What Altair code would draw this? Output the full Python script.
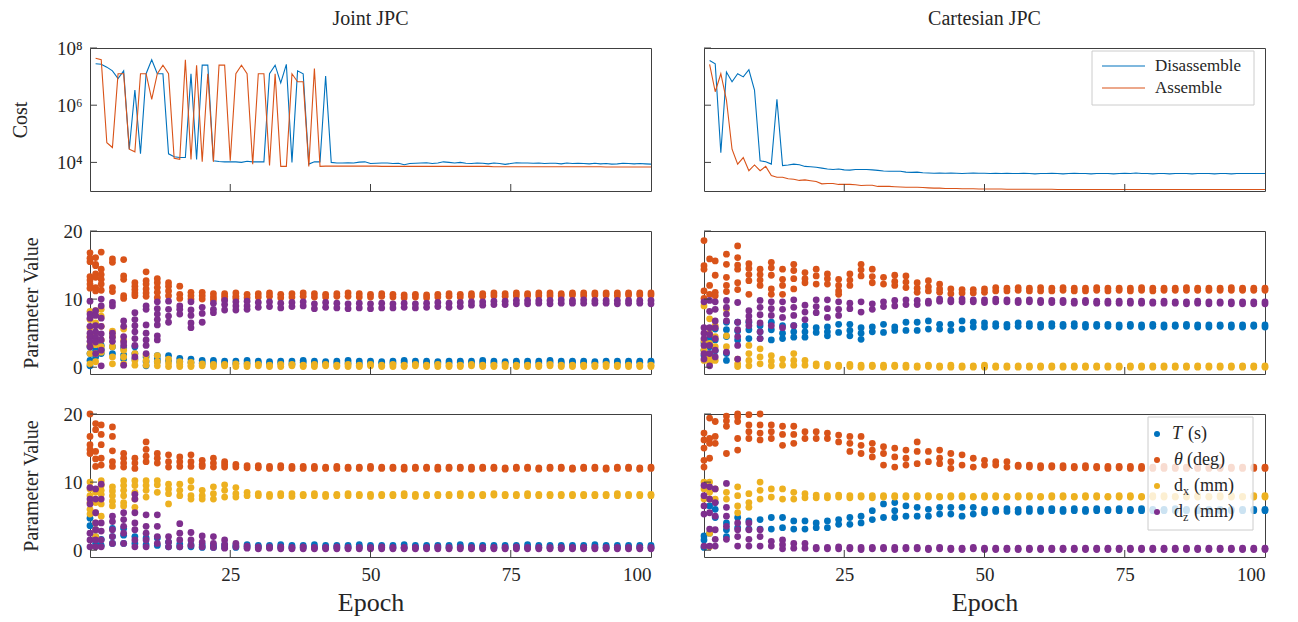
import altair as alt
import pandas as pd

FONT = "Liberation Serif"
FRAME = "#404040"

# ---------------- data ----------------
EPOCHS = [0, 1, 2, 4, 6, 8, 10, 12, 14, 16, 18, 20, 22, 24, 26, 28, 30, 32, 34, 36, 38, 40,
          42, 44, 46, 48, 50, 52, 54, 56, 58, 60, 62, 64, 66, 68, 70, 72, 74, 76, 78, 80,
          82, 84, 86, 88, 90, 92, 94, 96, 98, 100]

PARAM_KEYS = ["T", "theta", "dx", "dz"]
PARAM_COLORS = ["#0072BD", "#D95319", "#EDB120", "#7E2F8E"]
LINE_NAMES = ["Disassemble", "Assemble"]
LINE_COLORS = ["#0072BD", "#D95319"]
COL_TITLES = ["Joint JPC", "Cartesian JPC"]

# cost, log10 values for epochs 1..100
JOINT_DIS = [7.45, 7.43, 7.33, 7.2, 6.93, 7.2, 4.46, 6.53, 4.3, 7.1,
             7.59, 7.1, 7.1, 4.3, 4.2, 4.17, 4.17, 7.1, 4.1, 7.4,
             7.4, 4.06, 4.03, 4.02, 4.02, 4.02, 4.0, 4.04, 4.02, 4.02,
             4.02, 7.1, 7.4, 6.78, 7.43, 4.0, 7.2, 7.1, 3.94, 4.02,
             4.02, 7.02, 4.0,
             3.98, 3.98, 3.99, 3.98, 4.01, 4.02, 3.96, 3.97, 3.98, 3.98,
             3.96, 3.97, 3.92, 3.96, 3.97, 3.98, 3.99, 3.96, 3.98, 4.02,
             4.0, 3.98, 4.0, 3.97, 3.96, 3.98, 3.97, 3.95, 3.98, 3.96,
             3.93, 3.96, 3.99, 3.98, 3.98, 3.97, 3.98, 3.96, 3.97, 3.97,
             3.95, 3.98, 3.96, 3.97, 3.96, 3.95, 3.97, 3.95, 3.96, 3.94,
             3.95, 3.97, 3.96, 3.95, 3.96, 3.95, 3.94]
JOINT_ASS = [7.64, 7.59, 4.69, 4.52, 7.1, 7.1, 4.46, 4.37, 7.1, 7.1,
             6.2, 7.1, 7.4, 7.1, 4.14, 4.11, 7.59, 4.1, 7.4, 4.02,
             7.1, 4.02, 7.4, 7.4, 4.06, 7.1, 7.4, 7.1, 3.94, 7.1,
             7.1, 3.89, 7.1, 3.86, 3.86, 7.1, 6.82, 6.82, 3.86, 7.28, 3.86,
             3.87, 3.87, 3.87, 3.87, 3.87, 3.87, 3.87, 3.87, 3.87, 3.87,
             3.86, 3.86, 3.86, 3.86, 3.86, 3.86, 3.86, 3.86, 3.86, 3.86,
             3.86, 3.86, 3.86, 3.86, 3.86, 3.86, 3.86, 3.86, 3.86, 3.86,
             3.85, 3.85, 3.85, 3.85, 3.85, 3.85, 3.85, 3.85, 3.85, 3.85,
             3.85, 3.85, 3.85, 3.85, 3.85, 3.85, 3.85, 3.85, 3.85, 3.85,
             3.84, 3.84, 3.84, 3.84, 3.84, 3.84, 3.84, 3.84, 3.84]
CART_DIS = [7.56, 7.45, 4.34, 7.16, 6.82, 7.1, 6.99, 7.24, 6.53, 4.06,
            4.02, 3.94, 6.21, 3.89, 3.91, 3.94, 3.92, 3.86, 3.85, 3.83,
            3.8, 3.77, 3.75, 3.77, 3.74, 3.73, 3.75, 3.75, 3.75, 3.74,
            3.72, 3.7, 3.69, 3.69, 3.69, 3.66, 3.65, 3.66, 3.64, 3.63,
            3.62, 3.63, 3.62, 3.63, 3.62, 3.61, 3.62, 3.63, 3.62, 3.62,
            3.61, 3.62, 3.61, 3.62, 3.61, 3.61, 3.62, 3.61, 3.6, 3.61,
            3.61, 3.62, 3.61, 3.6, 3.61, 3.62, 3.61, 3.61, 3.6, 3.61,
            3.61, 3.61, 3.6, 3.61, 3.62, 3.61, 3.63, 3.61, 3.61, 3.6,
            3.61, 3.61, 3.6, 3.61, 3.61, 3.61, 3.6, 3.61, 3.61, 3.61,
            3.6, 3.61, 3.61, 3.6, 3.61, 3.61, 3.61, 3.61, 3.61, 3.61]
CART_ASS = [7.43, 6.47, 7.1, 6.18, 4.46, 3.94, 4.17, 3.71, 3.91, 3.71,
            3.86, 3.54, 3.48, 3.48, 3.43, 3.41, 3.37, 3.39, 3.36, 3.33,
            3.25, 3.26, 3.26, 3.23, 3.23, 3.23, 3.22, 3.19, 3.2, 3.2,
            3.16, 3.16, 3.16, 3.15, 3.14, 3.13, 3.13, 3.13, 3.12, 3.11,
            3.1, 3.1, 3.09, 3.09, 3.09, 3.08, 3.08, 3.08, 3.07, 3.07,
            3.07, 3.07, 3.07, 3.06, 3.06, 3.06, 3.06, 3.06, 3.06, 3.06,
            3.06, 3.06, 3.05, 3.05, 3.05, 3.05, 3.05, 3.05, 3.05, 3.05,
            3.05, 3.05, 3.05, 3.05, 3.05, 3.05, 3.05, 3.05, 3.05, 3.05,
            3.05, 3.05, 3.05, 3.05, 3.05, 3.05, 3.05, 3.05, 3.05, 3.05,
            3.05, 3.05, 3.05, 3.05, 3.05, 3.05, 3.05, 3.05, 3.05, 3.05]

# ---- parameter populations, one list per epoch column in EPOCHS ----
# Joint JPC, middle row
JM_T = [[3.0, 2.0, 1.0, 0.2], [3.0, 2.5, 1.5], [3.2, 2.6, 2.0], [3.0, 2.0], [2.8, 1.8, 1.2], [3.0, 2.0, 1.2],
        [1.5, 0.8, 0.2], [1.7, 1.2, 0.8], [1.7, 1.0], [1.3, 0.8], [1.2, 0.7], [1.0, 0.6],
        [1.0, 0.6], [0.9, 0.6], [0.9, 0.5], [1.0, 0.6], [0.9, 0.6], [0.8, 0.5], [0.9, 0.6], [0.9, 0.5], [1.0, 0.7], [0.9, 0.6],
        [0.8, 0.6], [0.9, 0.6], [1.0, 0.6], [0.9, 0.5], [0.9, 0.6], [0.8, 0.6], [0.9, 0.6], [1.0, 0.7], [0.9, 0.6], [0.9, 0.6],
        [0.8, 0.6], [0.9, 0.6], [0.9, 0.7], [0.9, 0.6], [1.0, 0.6], [0.9, 0.6], [0.8, 0.6], [0.9, 0.7], [0.9, 0.6], [0.9, 0.6],
        [1.0, 0.7], [0.9, 0.6], [0.9, 0.7], [0.9, 0.6], [0.8, 0.6], [0.9, 0.7], [0.9, 0.6], [0.9, 0.6], [0.9, 0.7], [0.9, 0.7]]
JM_TH = [[16.8, 16.0, 15.5, 13.3, 12.8, 12.2, 11.6], [16.1, 15.1, 14.9, 13.7, 13.2, 11.7, 11.2],
         [16.9, 14.4, 13.6, 12.9, 12.2, 11.3], [15.9, 15.4, 11.7, 11.1], [15.8, 13.4, 12.9, 10.5, 10.1],
         [12.4, 11.9, 11.4, 10.9, 10.5], [14.0, 12.7, 12.2, 11.5, 10.9, 10.4], [13.0, 12.4, 11.7, 11.0, 10.2],
         [12.4, 11.9, 11.2, 10.5], [11.9, 10.7, 10.1], [11.0, 10.5, 10.0], [11.0, 10.5, 10.0],
         [10.8, 10.3, 9.9], [10.8, 10.4, 10.0], [10.9, 10.4, 10.1], [10.7, 10.2],
         [10.8, 10.3], [10.9, 10.4], [10.7, 10.2], [10.8, 10.3], [10.9, 10.4], [10.8, 10.3], [10.7, 10.3], [10.8, 10.4], [10.9, 10.4], [10.8, 10.3],
         [10.7, 10.3], [10.8, 10.4], [10.7, 10.3], [10.6, 10.2], [10.7, 10.3], [10.6, 10.2], [10.7, 10.3], [10.8, 10.4], [10.7, 10.3], [10.8, 10.4],
         [10.8, 10.4], [10.9, 10.5], [10.8, 10.4], [10.9, 10.5], [10.8, 10.5], [10.9, 10.5], [10.9, 10.5], [10.8, 10.5], [10.9, 10.6], [10.9, 10.5],
         [10.9, 10.6], [10.9, 10.6], [10.9, 10.5], [10.9, 10.6], [10.9, 10.6], [10.9, 10.6]]
JM_DX = [[8.2, 7.0, 5.8, 4.5, 3.2, 2.0, 0.5], [8.3, 6.5, 5.0, 3.3, 2.0, 0.8], [8.5, 7.5, 6.0, 4.0, 3.0, 2.2],
         [5.3, 4.5, 3.0, 1.5, 0.5], [5.6, 4.0, 2.5, 1.5, 0.5], [2.0, 1.0, 0.3], [1.8, 1.0, 0.3],
         [1.7, 0.8, 0.2], [1.2, 0.6, 0.1], [0.8, 0.4, 0.1], [0.7, 0.3, 0.1],
         [0.5, 0.2], [0.4, 0.1], [0.4, 0.2], [0.5, 0.1], [0.4, 0.1], [0.4, 0.2], [0.3, 0.1], [0.4, 0.1], [0.4, 0.2], [0.3, 0.1],
         [0.4, 0.1], [0.4, 0.2], [0.3, 0.1], [0.4, 0.1], [0.3, 0.1], [0.4, 0.2], [0.3, 0.1], [0.4, 0.1], [0.3, 0.1], [0.4, 0.2],
         [0.3, 0.1], [0.4, 0.1], [0.3, 0.1], [0.3, 0.1], [0.4, 0.2], [0.3, 0.1], [0.3, 0.1], [0.4, 0.1], [0.3, 0.1], [0.3, 0.1],
         [0.3, 0.1], [0.4, 0.2], [0.3, 0.1], [0.3, 0.1], [0.3, 0.1], [0.3, 0.1], [0.4, 0.1], [0.3, 0.1], [0.3, 0.1], [0.3, 0.1],
         [0.3, 0.1]]
JM_DZ = [[9.7, 7.8, 7.2, 6.0, 5.0, 4.4, 3.8, 3.0], [8.3, 7.6, 6.1, 5.2, 4.4, 3.7, 2.0],
         [10.0, 9.0, 7.2, 6.0, 4.9, 4.0, 2.5, 0.2], [9.5, 9.0, 5.0, 4.4, 3.8], [6.8, 6.0, 4.5, 3.7, 3.2, 0.3],
         [8.0, 7.0, 6.1, 5.2, 4.2, 3.2, 1.5], [9.0, 8.5, 6.2, 5.0, 4.0, 3.2, 2.0], [9.6, 8.6, 7.8, 7.0, 6.2, 4.6, 4.0],
         [9.7, 8.5, 7.5, 6.6], [9.0, 8.5, 7.8], [9.6, 8.4, 7.6, 6.5, 5.8], [8.8, 7.9, 6.6],
         [9.4, 8.5, 8.0], [9.8, 9.2, 8.4], [9.6, 9.0, 8.4], [9.7, 9.0, 8.5],
         [9.5, 8.8], [9.6, 8.9], [9.4, 8.7], [9.5, 8.9], [9.6, 9.0], [9.3, 8.6], [9.5, 8.8], [9.4, 8.7], [9.3, 8.6], [9.4, 8.7],
         [9.3, 8.6], [9.4, 8.7], [9.3, 8.7], [9.4, 8.8], [9.3, 8.7], [9.4, 8.8], [9.5, 8.9], [9.4, 8.8], [9.5, 8.9], [9.6, 9.1],
         [9.6, 9.1], [9.7, 9.2], [9.7, 9.2], [9.8, 9.3], [9.8, 9.3], [9.8, 9.4], [9.8, 9.3], [9.9, 9.4], [9.8, 9.4], [9.9, 9.4],
         [9.8, 9.4], [9.8, 9.4], [9.8, 9.3], [9.8, 9.4], [9.8, 9.4], [9.8, 9.3]]

# Joint JPC, bottom row
JB_T = [[4.7, 3.6], [3.0, 2.0, 1.0], [1.6, 0.7], [3.2, 2.0, 1.0], [3.2, 2.2, 1.0], [2.0, 1.0], [1.8, 0.8],
        [1.8, 0.7], [1.2, 0.5],
        [0.9, 0.5], [0.8, 0.5], [0.8, 0.4], [0.7, 0.4], [0.8, 0.4], [0.7, 0.4], [0.8, 0.5], [0.7, 0.4], [0.7, 0.4], [0.8, 0.4],
        [0.7, 0.4], [0.7, 0.4], [0.8, 0.4], [0.7, 0.4], [0.7, 0.4], [0.7, 0.4], [0.8, 0.5], [0.7, 0.4], [0.7, 0.4], [0.7, 0.4],
        [0.8, 0.4], [0.7, 0.4], [0.7, 0.4], [0.7, 0.4], [0.7, 0.4], [0.8, 0.5], [0.7, 0.4], [0.7, 0.4], [0.7, 0.4], [0.7, 0.4],
        [0.7, 0.4], [0.8, 0.4], [0.7, 0.4], [0.7, 0.4], [0.7, 0.4], [0.7, 0.4], [0.7, 0.4], [0.8, 0.5], [0.7, 0.4], [0.7, 0.4],
        [0.7, 0.4], [0.7, 0.4], [0.7, 0.4]]
JB_TH = [[20.0, 16.7, 15.5, 14.8, 14.2], [18.6, 17.7, 14.5, 13.4, 12.3], [18.4, 17.0, 15.5, 13.5, 12.5],
         [18.1, 16.7, 14.6, 13.0, 12.3], [14.2, 13.5, 12.8, 12.2], [13.5, 12.8, 12.0], [15.9, 14.8, 13.8, 13.0],
         [14.2, 13.5, 12.8], [14.0, 13.0, 12.2], [13.7, 13.0, 12.3], [14.0, 13.0, 12.3], [13.2, 12.6, 12.3],
         [13.5, 12.8, 12.2], [13.0, 12.6, 12.2], [12.6, 12.2], [12.4, 12.1],
         [12.4, 12.1], [12.3, 12.0], [12.4, 12.1], [12.3, 12.0], [12.3, 12.0], [12.3, 12.0], [12.2, 12.0], [12.3, 12.0], [12.2, 12.0], [12.2, 12.0],
         [12.3, 12.0], [12.2, 12.0], [12.2, 12.0], [12.2, 11.9], [12.2, 12.0], [12.2, 12.0], [12.2, 11.9], [12.2, 12.0], [12.2, 12.0], [12.2, 11.9],
         [12.2, 12.0], [12.2, 12.0], [12.1, 11.9], [12.2, 12.0], [12.2, 12.0], [12.1, 11.9], [12.2, 12.0], [12.2, 12.0], [12.1, 11.9], [12.2, 12.0],
         [12.2, 12.0], [12.1, 11.9], [12.2, 12.0], [12.2, 12.0], [12.1, 11.9], [12.2, 12.0]]
JB_DX = [[10.0, 9.0, 8.0, 7.0, 6.0, 5.3], [8.5, 7.0, 5.5, 4.0, 3.0, 2.0], [10.2, 9.5, 8.8, 8.2, 6.8, 5.0],
         [9.3, 8.7, 8.0, 7.2, 6.5], [10.2, 9.5, 8.8, 8.0, 7.0, 6.5], [10.2, 9.5, 8.5, 7.5, 6.3], [10.2, 9.5, 8.8, 7.8],
         [10.2, 9.6, 8.5], [9.7, 9.0, 8.3, 6.8], [9.7, 8.8, 8.0], [10.2, 9.2, 8.0, 7.5], [8.8, 8.0, 7.5],
         [9.3, 8.3, 7.5], [9.6, 8.8, 7.8], [9.2, 8.3, 7.8], [8.5, 8.0],
         [8.3, 8.0], [8.2, 7.9], [8.3, 8.0], [8.3, 7.9], [8.2, 8.0], [8.3, 8.0], [8.2, 7.9], [8.2, 8.0], [8.3, 8.0], [8.2, 8.0],
         [8.2, 7.9], [8.2, 8.0], [8.2, 8.0], [8.3, 8.0], [8.2, 7.9], [8.2, 8.0], [8.2, 8.0], [8.2, 8.0], [8.3, 8.0], [8.2, 8.0],
         [8.2, 8.0], [8.3, 8.1], [8.2, 8.0], [8.2, 8.0], [8.3, 8.0], [8.2, 8.0], [8.2, 8.0], [8.2, 8.0], [8.2, 8.0], [8.2, 8.0],
         [8.2, 8.0], [8.2, 8.0], [8.3, 8.0], [8.2, 8.0], [8.2, 8.0], [8.2, 8.0]]
JB_DZ = [[9.2, 7.5, 6.8, 2.5, 1.5, 0.5], [9.0, 7.5, 5.5, 4.0, 3.0, 1.5, 0.5], [9.7, 7.5, 4.0, 2.8, 1.5, 0.5],
         [5.0, 4.2, 3.0, 2.0, 1.0], [5.5, 4.5, 3.5, 2.5, 1.0], [8.2, 7.5, 5.5, 4.0, 3.0, 1.5, 0.5],
         [5.2, 3.5, 2.5, 1.5, 0.5], [5.2, 3.5, 2.0, 1.0], [2.0, 1.2, 0.5], [3.9, 2.5, 1.5, 0.5],
         [2.6, 1.5, 0.7], [2.1, 1.2, 0.5], [2.0, 1.0, 0.4], [1.5, 0.8, 0.3], [1.0, 0.5],
         [0.6, 0.3], [0.5, 0.2], [0.5, 0.3], [0.5, 0.2], [0.4, 0.2], [0.5, 0.2], [0.4, 0.2], [0.4, 0.2], [0.5, 0.2], [0.4, 0.2],
         [0.4, 0.2], [0.4, 0.2], [0.5, 0.2], [0.4, 0.2], [0.4, 0.2], [0.4, 0.2], [0.4, 0.2], [0.5, 0.2], [0.4, 0.2], [0.4, 0.2],
         [0.4, 0.2], [0.4, 0.2], [0.4, 0.2], [0.4, 0.2], [0.5, 0.2], [0.4, 0.2], [0.4, 0.2], [0.4, 0.2], [0.4, 0.2], [0.4, 0.2],
         [0.4, 0.2], [0.4, 0.2], [0.4, 0.2], [0.4, 0.2], [0.4, 0.2], [0.4, 0.2], [0.4, 0.2]]

# Cartesian JPC, middle row
CM_T = [[3.6, 2.5, 1.7], [4.1, 3.0, 2.0], [5.6, 4.0, 2.4], [6.6, 5.5, 4.5, 2.0, 1.0], [6.6, 5.3, 4.0],
        [6.6, 5.5, 4.2], [6.1, 5.2, 4.2], [6.6, 5.5, 4.0], [6.1, 5.0, 4.2], [6.1, 5.2, 4.4], [6.1, 5.2, 4.4],
        [5.8, 5.1], [5.9, 5.2, 4.6], [6.3, 5.1], [6.3, 5.4, 4.6], [5.8, 5.0, 4.1], [5.9, 5.2], [6.3, 5.1],
        [5.9, 5.4], [6.6, 5.4], [6.6, 5.4], [6.8, 5.6], [6.3, 5.6], [6.3, 5.4], [6.8, 5.6], [6.6, 5.9], [6.5, 5.9],
        [6.4, 6.0], [6.3, 5.9], [6.5, 6.0], [6.4, 6.0], [6.3, 5.9], [6.4, 6.0], [6.3, 6.0], [6.4, 6.0], [6.3, 5.9], [6.3, 6.0],
        [6.3, 6.0], [6.2, 5.9], [6.3, 6.0], [6.2, 5.9], [6.3, 6.0], [6.2, 5.9], [6.2, 6.0], [6.3, 6.0], [6.2, 5.9], [6.2, 5.9],
        [6.2, 6.0], [6.2, 5.9], [6.2, 5.9], [6.2, 6.0], [6.2, 5.9]]
CM_TH = [[18.6, 14.9, 14.4, 11.2, 10.1], [15.9, 12.0, 10.7], [15.6, 13.5, 11.0, 10.5], [16.6, 15.1, 13.2, 12.0, 11.1],
         [17.8, 16.1, 15.0, 14.4, 12.4, 11.4], [15.2, 14.5, 13.6, 12.7, 10.7], [14.4, 13.6, 12.8, 12.0],
         [15.4, 14.6, 13.5, 11.5, 10.7], [14.4, 12.9, 12.0, 10.7], [15.1, 14.2, 13.0, 11.5], [13.9, 13.0, 12.4],
         [14.4, 13.4, 12.2], [13.7, 13.0, 12.2], [12.9, 12.0, 11.2, 10.7], [13.7, 12.8, 12.0], [15.1, 14.3, 13.4],
         [14.4, 13.3, 12.4], [13.2, 12.2], [13.5, 12.6, 12.0], [13.4, 12.5, 11.7], [12.4, 11.6, 11.0], [12.7, 11.8, 11.2],
         [12.2, 11.5, 11.0], [11.5, 10.8], [11.4, 10.9], [11.4, 10.9], [11.5, 11.0],
         [11.7, 11.2], [11.6, 11.2], [11.7, 11.3], [11.6, 11.2], [11.7, 11.2], [11.6, 11.2], [11.7, 11.3], [11.6, 11.2], [11.6, 11.2], [11.7, 11.3],
         [11.6, 11.2], [11.6, 11.3], [11.6, 11.2], [11.7, 11.3], [11.6, 11.2], [11.6, 11.3], [11.6, 11.3], [11.7, 11.3], [11.6, 11.3], [11.6, 11.3],
         [11.6, 11.3], [11.7, 11.3], [11.6, 11.3], [11.6, 11.3], [11.6, 11.3]]
CM_DX = [[9.0, 3.9, 2.5, 1.0], [7.1, 5.0, 3.5, 1.5, 0.7], [6.1, 4.5, 3.0, 1.0], [8.5, 4.6, 3.0], [1.2, 0.5, 0.1],
         [3.2, 2.0, 1.0, 0.2], [2.7, 1.5, 0.5], [1.7, 0.9, 0.2], [1.2, 0.3], [2.0, 1.0, 0.3], [1.0, 0.3], [0.5, 0.2],
         [0.4, 0.1], [0.3, 0.1], [0.4, 0.1], [0.3, 0.0], [0.3, 0.1], [0.3, 0.0], [0.3, 0.1], [0.3, 0.0], [0.2, 0.0], [0.3, 0.1],
         [0.2, 0.0], [0.3, 0.0], [0.2, 0.0], [0.2, 0.0], [0.3, 0.0], [0.2, 0.0], [0.2, 0.0], [0.2, 0.0], [0.2, 0.0], [0.2, 0.0],
         [0.2, 0.0], [0.2, 0.0], [0.2, 0.0], [0.2, 0.0], [0.2, 0.0], [0.2, 0.0], [0.2, 0.0], [0.2, 0.0], [0.2, 0.0], [0.2, 0.0],
         [0.2, 0.0], [0.2, 0.0], [0.2, 0.0], [0.2, 0.0], [0.2, 0.0], [0.2, 0.0], [0.2, 0.0], [0.2, 0.0], [0.2, 0.0], [0.2, 0.0]]
CM_DZ = [[9.6, 5.8, 5.0, 4.2, 3.2, 2.0, 1.2], [9.8, 8.2, 5.8, 4.8, 3.2, 2.0, 0.2], [9.6, 8.5, 6.8, 5.8, 4.2, 2.5, 1.5],
         [9.8, 8.8, 7.8, 6.8, 2.2], [9.5, 6.6, 5.5, 4.5, 3.2, 1.2], [8.3, 7.5, 6.8, 6.1], [9.8, 8.8, 7.7, 6.5, 5.2, 4.2],
         [9.6, 8.6, 7.6, 6.1], [9.6, 8.5, 7.3, 5.8], [9.9, 8.8, 7.6, 6.1], [9.1, 8.1, 7.0], [9.9, 8.9, 8.0],
         [9.9, 8.6, 7.3], [9.6, 8.5, 7.6], [9.4, 8.6], [9.6, 8.1], [9.3, 8.5], [9.6, 8.9], [9.8, 9.0], [9.9, 9.2],
         [9.8, 9.2], [9.7, 9.4], [10.0, 9.7],
         [9.9, 9.6], [10.0, 9.6], [9.9, 9.6], [9.9, 9.5], [10.0, 9.6], [9.9, 9.6], [9.8, 9.5], [9.9, 9.6], [9.8, 9.5], [9.8, 9.5],
         [9.8, 9.5], [9.7, 9.4], [9.8, 9.5], [9.7, 9.4], [9.7, 9.4], [9.7, 9.4], [9.7, 9.4], [9.7, 9.4], [9.6, 9.4], [9.7, 9.4],
         [9.6, 9.4], [9.6, 9.3], [9.7, 9.4], [9.6, 9.3], [9.6, 9.4], [9.6, 9.3], [9.6, 9.3], [9.6, 9.3], [9.6, 9.3]]

# Cartesian JPC, bottom row
CB_T = [[2.1, 1.5, 0.4], [7.5, 6.5, 2.5], [7.0, 6.0, 4.8], [4.0, 3.0, 2.0], [4.8, 3.3], [4.3, 3.1], [4.5, 3.1],
        [4.8, 3.1], [4.8, 3.3], [4.3, 3.1], [4.3, 3.1], [4.0, 3.3], [4.3, 3.3], [4.5, 3.8], [4.8, 3.8], [5.0, 4.0],
        [5.8, 4.5], [6.8, 4.8], [7.0, 5.8, 4.8], [6.5, 5.0], [6.3, 5.0], [6.0, 5.0], [6.3, 5.3], [6.3, 5.3], [6.3, 5.0],
        [6.3, 5.3], [6.0, 5.5],
        [6.0, 5.7], [6.1, 5.7], [6.0, 5.6], [6.1, 5.7], [6.0, 5.7], [6.1, 5.8], [6.0, 5.7], [6.1, 5.8], [6.0, 5.7], [6.1, 5.8],
        [6.0, 5.8], [6.1, 5.8], [6.0, 5.8], [6.1, 5.8], [6.0, 5.8], [6.0, 5.8], [6.1, 5.8], [6.0, 5.8], [6.0, 5.8], [6.0, 5.8],
        [6.0, 5.8], [6.0, 5.8], [6.0, 5.8], [6.0, 5.8], [6.0, 5.8]]
CB_TH = [[17.2, 16.2, 15.0, 13.2, 12.2], [19.4, 16.4, 15.7, 13.5], [18.9, 16.7, 15.7], [19.7, 19.0, 18.2, 14.2],
         [20.0, 19.6, 18.9, 16.4, 14.7], [19.9, 18.4, 17.4, 16.4], [20.0, 18.4, 17.2, 16.2], [18.4, 17.4, 16.4],
         [18.2, 17.0, 15.4], [18.2, 17.0, 15.7], [17.4, 16.4], [17.4, 16.4], [17.2, 16.4], [16.9, 15.9],
         [16.7, 15.7, 14.5], [16.7, 15.4, 14.2], [15.7, 14.7, 13.7], [15.2, 14.2, 12.5], [15.0, 13.7, 12.2],
         [14.7, 13.5, 12.5], [15.9, 14.5, 12.7], [14.5, 13.0], [14.7, 13.5, 12.7], [14.2, 13.0, 12.0], [14.0, 12.5],
         [13.5, 12.2], [13.2, 12.5], [13.0, 12.5], [13.0, 12.2], [12.5, 12.3],
         [12.5, 12.2], [12.4, 12.1], [12.4, 12.2], [12.4, 12.1], [12.3, 12.1], [12.4, 12.1], [12.3, 12.1], [12.3, 12.0], [12.3, 12.1], [12.3, 12.0],
         [12.3, 12.0], [12.2, 12.0], [12.3, 12.0], [12.2, 12.0], [12.2, 12.0], [12.2, 12.0], [12.2, 12.0], [12.2, 12.0], [12.2, 12.0], [12.2, 12.0],
         [12.2, 12.0], [12.2, 12.0]]
CB_DX = [[10.0, 9.0, 7.5], [10.0, 8.5, 7.5, 2.5, 0.5], [9.0, 7.5], [8.5, 7.5], [9.3, 8.0, 6.5, 5.5], [8.3, 7.0, 6.3],
         [10.0, 8.8, 7.5], [9.0, 7.8], [9.0, 7.5], [8.5, 7.5],
         [8.3, 7.7], [8.1, 7.7], [8.0, 7.7], [8.1, 7.8], [8.0, 7.7], [8.0, 7.8], [8.0, 7.7], [8.0, 7.8], [8.0, 7.8], [8.0, 7.8],
         [8.0, 7.8], [8.0, 7.8], [7.9, 7.8], [8.0, 7.8], [8.0, 7.8], [7.9, 7.8], [8.0, 7.8], [8.0, 7.8], [7.9, 7.8], [8.0, 7.8],
         [8.0, 7.8], [7.9, 7.8], [8.0, 7.8], [8.0, 7.8], [7.9, 7.8], [8.0, 7.8], [8.0, 7.8], [7.9, 7.8], [8.0, 7.8], [8.0, 7.8],
         [7.9, 7.8], [8.0, 7.8], [8.0, 7.8], [7.9, 7.8], [8.0, 7.8], [8.0, 7.8], [7.9, 7.8], [8.0, 7.8], [8.0, 7.8], [7.9, 7.8],
         [8.0, 7.8], [8.0, 7.8]]
CB_DZ = [[9.5, 8.0, 6.5, 5.3, 0.6], [9.3, 7.5, 5.5, 3.1, 0.6], [9.0, 7.0, 5.0, 3.0, 1.6, 0.6], [9.8, 6.3, 5.0, 3.5, 1.6],
         [4.0, 3.0, 2.0, 0.6], [4.0, 3.0, 1.6, 0.6], [3.0, 2.0, 0.6], [1.3, 0.6], [1.5, 0.8, 0.2], [1.0, 0.3], [1.0, 0.3],
         [0.4, 0.2], [0.4, 0.2], [0.5, 0.2], [0.4, 0.2], [0.4, 0.1], [0.4, 0.2], [0.4, 0.2], [0.4, 0.1], [0.4, 0.2], [0.4, 0.2],
         [0.3, 0.1], [0.4, 0.2], [0.3, 0.1], [0.3, 0.1], [0.4, 0.2], [0.3, 0.1], [0.3, 0.1], [0.3, 0.1], [0.3, 0.1], [0.3, 0.1],
         [0.3, 0.1], [0.3, 0.1], [0.3, 0.1], [0.3, 0.1], [0.3, 0.1], [0.3, 0.1], [0.3, 0.1], [0.3, 0.1], [0.3, 0.1], [0.3, 0.1],
         [0.3, 0.1], [0.3, 0.1], [0.3, 0.1], [0.3, 0.1], [0.3, 0.1], [0.3, 0.1], [0.3, 0.1], [0.3, 0.1], [0.3, 0.1], [0.3, 0.1],
         [0.3, 0.1]]

# legend texts
LEG_SYM = ["T", "θ", "d", "d"]
LEG_ITALIC = [True, True, False, False]
LEG_SUB = ["", "", "x", "z"]
LEG_REST = ["(s)", "(deg)", "(mm)", "(mm)"]

# ---------------- layout / styles ----------------
W, H = 561, 143
FS_TICK, FS_TITLE, FS_EPOCH, FS_LEG = 19, 20, 26, 17
X_SCALE = alt.Scale(domain=[0, 100], nice=False, zero=False)
Y_LOG = alt.Scale(type="log", domain=[1e3, 1e8], nice=False)
Y_PAR = alt.Scale(domain=[-1, 20], nice=False, zero=False)
ONE = pd.DataFrame({"k": [0]})
TXT = "#262626"


def x_axis(bottom):
    if not bottom:
        return None
    return alt.Axis(values=[25, 50, 75, 100], ticks=False, domain=False, grid=False,
                    labelFontSize=FS_TICK, labelPadding=8, labelColor=TXT, labelFont=FONT,
                    title="Epoch", titleFontSize=FS_EPOCH, titleFontWeight="normal", titleFont=FONT,
                    titlePadding=5, titleColor=TXT)


def y_axis(col, cost):
    if col != 0:
        return None
    if cost:
        return alt.Axis(values=[1e4, 1e6, 1e8], ticks=False, domain=False, grid=False,
                        labelExpr="datum.value > 5e7 ? '10⁸' : (datum.value > 5e5 ? '10⁶' : '10⁴')",
                        labelFontSize=FS_TICK, labelPadding=8, labelColor=TXT, labelFont=FONT,
                        title="Cost", titleFontSize=FS_TITLE, titleFontWeight="normal", titleFont=FONT,
                        titlePadding=26, titleColor=TXT)
    return alt.Axis(values=[0, 10, 20], ticks=False, domain=False, grid=False,
                    labelFontSize=FS_TICK, labelPadding=8, labelColor=TXT, labelFont=FONT,
                    title="Parameter Value", titleFontSize=FS_TITLE, titleFontWeight="normal", titleFont=FONT,
                    titlePadding=22, titleColor=TXT)


def inner_ticks(yscale, yvals, xax, yax):
    xt = alt.Chart(pd.DataFrame({"t": [25, 50, 75]})).mark_rule(color=FRAME, strokeWidth=1).encode(
        x=alt.X("t:Q", scale=X_SCALE, axis=xax), y=alt.value(H), y2=alt.value(H - 7))
    yt = alt.Chart(pd.DataFrame({"t": yvals})).mark_rule(color=FRAME, strokeWidth=1).encode(
        y=alt.Y("t:Q", scale=yscale, axis=yax), x=alt.value(0), x2=alt.value(7))
    return [xt, yt]


def cost_panel(dis, ass, col):
    yax = y_axis(col, True)
    layers = []
    for k, vals in enumerate([dis, ass]):
        df = pd.DataFrame({"epoch": list(range(1, len(vals) + 1)),
                           "cost": [10 ** v for v in vals]})
        layers.append(alt.Chart(df).mark_line(color=LINE_COLORS[k], strokeWidth=1.1, clip=True).encode(
            x=alt.X("epoch:Q", scale=X_SCALE, axis=None),
            y=alt.Y("cost:Q", scale=Y_LOG, axis=yax)))
    layers += inner_ticks(Y_LOG, [1e4, 1e6, 1e8], None, yax)
    # column title
    layers.append(alt.Chart(ONE).mark_text(text=COL_TITLES[col], align="center", baseline="middle", font=FONT,
                                           fontSize=FS_TITLE, color=TXT).encode(
        x=alt.value(W / 2), y=alt.value(-29)))
    if col == 1:
        layers.append(alt.Chart(ONE).mark_rect(fill="white", fillOpacity=0.8, stroke="#CCCCCC", strokeWidth=1).encode(
            x=alt.value(388), x2=alt.value(550), y=alt.value(3), y2=alt.value(57)))
        for k, name in enumerate(LINE_NAMES):
            yy = 18 + 22 * k
            layers.append(alt.Chart(ONE).mark_rule(color=LINE_COLORS[k], strokeWidth=1.1).encode(
                x=alt.value(398), x2=alt.value(441), y=alt.value(yy)))
            layers.append(alt.Chart(ONE).mark_text(text=name, align="left", baseline="middle", font=FONT,
                                                   fontSize=FS_LEG, color=TXT).encode(
                x=alt.value(451), y=alt.value(yy)))
    return alt.layer(*layers).properties(width=W, height=H)


def scatter_panel(series, col, bottom, legend):
    rows = []
    for key, s in zip(PARAM_KEYS, series):
        for ep, vals in zip(EPOCHS, s):
            for v in vals:
                rows.append({"epoch": ep, "value": v, "param": key})
    df = pd.DataFrame(rows)
    xax = x_axis(bottom)
    yax = y_axis(col, False)
    pts = alt.Chart(df).mark_circle(size=46, opacity=1).encode(
        x=alt.X("epoch:Q", scale=X_SCALE, axis=xax),
        y=alt.Y("value:Q", scale=Y_PAR, axis=yax),
        color=alt.Color("param:N", scale=alt.Scale(domain=PARAM_KEYS, range=PARAM_COLORS), legend=None))
    layers = [pts] + inner_ticks(Y_PAR, [0, 10, 20], xax, yax)
    if legend:
        layers.append(alt.Chart(ONE).mark_rect(fill="white", fillOpacity=0.8, stroke="#CCCCCC", strokeWidth=1).encode(
            x=alt.value(444), x2=alt.value(549), y=alt.value(3), y2=alt.value(116)))
        x0 = 468
        for i in range(len(LEG_SYM)):
            yy = 20 + 26 * i
            layers.append(alt.Chart(ONE).mark_circle(size=36, opacity=1, color=PARAM_COLORS[i]).encode(
                x=alt.value(453), y=alt.value(yy)))
            sym_x = x0 if i == 0 else x0 + 2
            layers.append(alt.Chart(ONE).mark_text(text=LEG_SYM[i], align="left", baseline="middle", font=FONT,
                                                   fontSize=FS_LEG + 1, color=TXT,
                                                   fontStyle="italic" if LEG_ITALIC[i] else "normal").encode(
                x=alt.value(sym_x), y=alt.value(yy)))
            if LEG_SUB[i]:
                layers.append(alt.Chart(ONE).mark_text(text=LEG_SUB[i], align="left", baseline="middle", font=FONT,
                                                       fontSize=12, color=TXT).encode(
                    x=alt.value(x0 + 11), y=alt.value(yy + 5)))
            rest_x = [x0 + 16, x0 + 15, x0 + 22, x0 + 22][i]
            layers.append(alt.Chart(ONE).mark_text(text=LEG_REST[i], align="left", baseline="middle", font=FONT,
                                                   fontSize=FS_LEG + 1, color=TXT).encode(
                x=alt.value(rest_x), y=alt.value(yy)))
    return alt.layer(*layers).properties(width=W, height=H)


panels = [
    cost_panel(JOINT_DIS, JOINT_ASS, 0), cost_panel(CART_DIS, CART_ASS, 1),
    scatter_panel([JM_T, JM_TH, JM_DX, JM_DZ], 0, False, False),
    scatter_panel([CM_T, CM_TH, CM_DX, CM_DZ], 1, False, False),
    scatter_panel([JB_T, JB_TH, JB_DX, JB_DZ], 0, True, False),
    scatter_panel([CB_T, CB_TH, CB_DX, CB_DZ], 1, True, True),
]

chart = alt.concat(*panels, columns=2, spacing=alt.RowColnumber(row=40, column=53), bounds="flush").properties(
    padding={"left": 1, "top": 0, "right": 5, "bottom": 2}
).configure(font=FONT).configure_view(stroke=FRAME, strokeWidth=1).configure_axis(
    labelFont=FONT, titleFont=FONT
)

chart.save("out.html", embed_options={"renderer": "svg", "actions": False})
